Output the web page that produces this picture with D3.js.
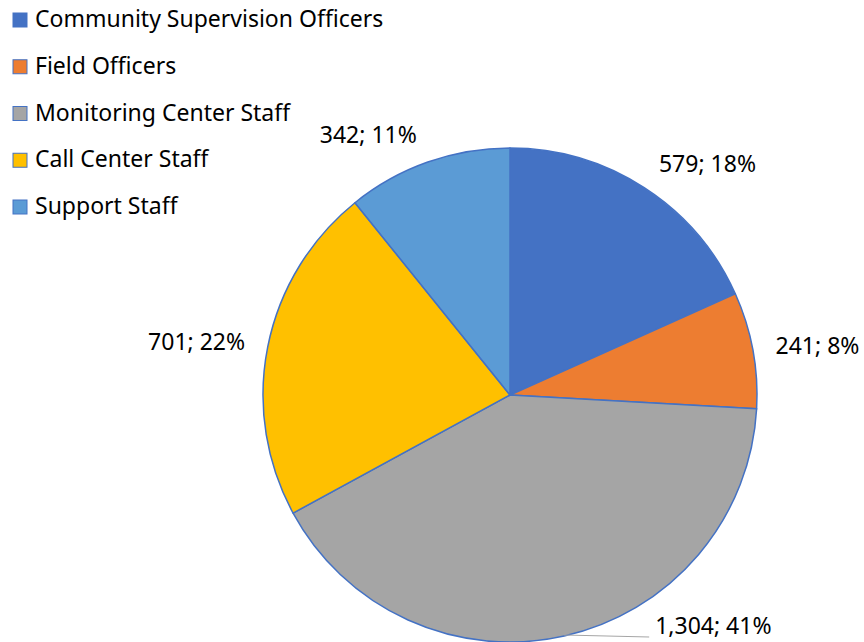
<!DOCTYPE html>
<html lang="en">
<head>
<meta charset="utf-8">
<title>Staff by role</title>
<style>
  body { margin: 0; background: #fff; }
  svg { display: block; }
  text { font-family: "Noto Sans", "Open Sans", sans-serif; fill: #000; }
</style>
</head>
<body>
<div id="chart"></div>
<script src="https://cdn.jsdelivr.net/npm/d3@7"></script>
<script>
var categories = ["Community Supervision Officers", "Field Officers", "Monitoring Center Staff", "Call Center Staff", "Support Staff"];
var values = [579, 241, 1304, 701, 342];
var colors = ["#4472C4", "#ED7D31", "#A5A5A5", "#FFC000", "#5B9BD5"];

var width = 864,
    height = 642,
    cx = 510,
    cy = 395,
    radius = 247,
    fontSize = 23;

var total = d3.sum(values);
var fmt = d3.format(",");

var svg = d3.select("#chart")
    .append("svg")
    .attr("width", width)
    .attr("height", height);

// legend, top left
var legendY = d3.scalePoint()
    .domain(categories)
    .range([27, 214]);

var legend = svg.append("g")
    .selectAll("g")
    .data(categories)
  .enter().append("g")
    .attr("transform", function(d) { return "translate(0," + legendY(d) + ")"; });

legend.append("rect")
    .attr("x", 13)
    .attr("y", -14)
    .attr("width", 14)
    .attr("height", 14)
    .attr("fill", function(d, i) { return colors[i]; })
    .attr("stroke", "#4472C4")
    .attr("stroke-width", 1);

legend.append("text")
    .attr("x", 35)
    .attr("y", 0)
    .style("font-size", fontSize + "px")
    .text(function(d) { return d; });

// pie
var pie = d3.pie().sort(null).value(function(d) { return d; });
var arcs = pie(values);
var arc = d3.arc().innerRadius(0).outerRadius(radius);

var g = svg.append("g")
    .attr("transform", "translate(" + cx + "," + cy + ")");

g.selectAll("path")
    .data(arcs)
  .enter().append("path")
    .attr("d", arc)
    .attr("fill", function(d, i) { return colors[i]; })
    .attr("stroke", "#4472C4")
    .attr("stroke-width", 1.5)
    .attr("stroke-linejoin", "round");

// data labels: "value; pct"
function labelText(d) {
  return fmt(d.value) + "; " + Math.round(d.value / total * 100) + "%";
}

var labelR = radius + 18,
    gap = 5;

arcs.forEach(function(d) {
  var a = (d.startAngle + d.endAngle) / 2;
  var s = Math.sin(a), c = Math.cos(a);
  var px = labelR * s, py = -labelR * c;

  if (c < -0.9) {
    // near the bottom: label to the right with a leader line
    var ex = radius * s, ey = -radius * c;
    g.append("path")
        .attr("d", "M" + ex + "," + (ey - 1) + "L" + (ex + 85) + "," + (ey + 1))
        .attr("fill", "none")
        .attr("stroke", "#A6A6A6")
        .attr("stroke-width", 1.2);
    g.append("text")
        .attr("x", ex + 91)
        .attr("y", ey - 11)
        .attr("dominant-baseline", "central")
        .style("font-size", fontSize + "px")
        .text(labelText(d));
    return;
  }

  g.append("text")
      .attr("x", px + (s >= 0 ? gap : -gap))
      .attr("y", py - c * fontSize / 2)
      .attr("text-anchor", s >= 0 ? "start" : "end")
      .attr("dominant-baseline", "central")
      .style("font-size", fontSize + "px")
      .text(labelText(d));
});
</script>
</body>
</html>
